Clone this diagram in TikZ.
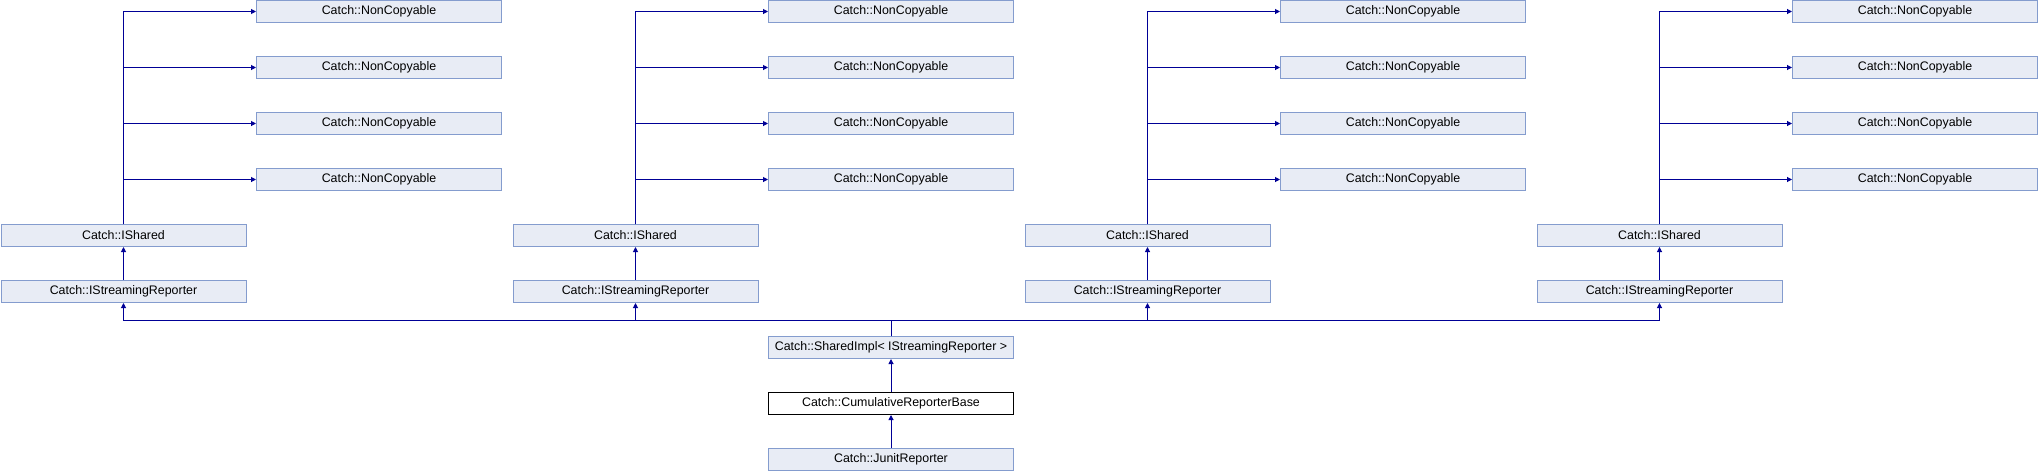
\documentclass[tikz,border=0pt]{standalone}
\usepackage{fontspec}
\setmainfont{Liberation Sans}
\usetikzlibrary{arrows.meta}
\definecolor{boxfill}{RGB}{232,236,245}
\definecolor{boxline}{RGB}{132,156,206}
\definecolor{edgeblue}{RGB}{0,0,150}

\begin{document}
\begin{tikzpicture}[x=1pt,y=-1pt]
  \tikzstyle{cls}=[draw=boxline,fill=boxfill,line width=1pt,minimum width=245pt,minimum height=22pt,inner sep=0pt,font=\fontsize{12.4}{14}\selectfont]
  \tikzstyle{cur}=[cls,draw=black,fill=white]
  \tikzstyle{inh}=[draw=edgeblue,line width=1pt,-{Triangle[length=5pt,width=5pt]}]
  \useasboundingbox (0,0) rectangle (2038,472);
  \foreach \k / \x in {1/0,2/512,3/1024,4/1536} {
     \node[cls] (shr\k) at (\x+123.5,235.5) {Catch::IShared};
     \node[cls] (isr\k) at (\x+123.5,291.5) {Catch::IStreamingReporter};
     \foreach \j / \y in {1/11.5,2/67.5,3/123.5,4/179.5} {
        \node[cls] (nc\k\j) at (\x+379,\y) {Catch::NonCopyable};
        \draw[inh] (shr\k) |- (nc\k\j);
     }
     \draw[inh] (isr\k) -- (shr\k);
  }
  \node[cls] (impl) at (891,347.5) {Catch::SharedImpl< IStreamingReporter >};
  \node[cur] (cumul) at (891,403.5) {Catch::CumulativeReporterBase};
  \node[cls] (junit) at (891,459.5) {Catch::JunitReporter};
  \coordinate (bus) at (891,320.5);
  \foreach \k in {1,...,4}
     \draw[inh] (impl) -- (bus) -| (isr\k);
  \draw[inh] (cumul) -- (impl);
  \draw[inh] (junit) -- (cumul);
\end{tikzpicture}
\end{document}
